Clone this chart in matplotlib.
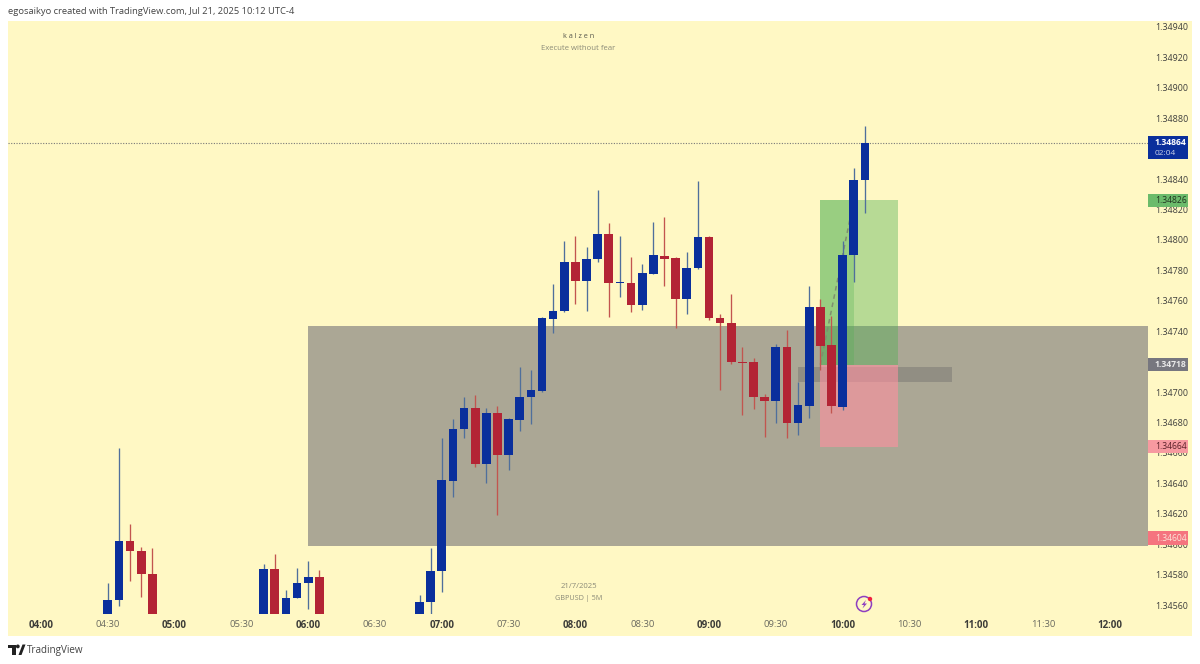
import matplotlib
matplotlib.use('Agg')
import matplotlib.pyplot as plt
from matplotlib.patches import Rectangle, Polygon, Circle
from matplotlib.transforms import IdentityTransform
import numpy as np

plt.rcParams['font.family'] = ['Open Sans', 'DejaVu Sans']

barTimes = ['04:30','04:35','04:40','04:45','04:50',
            '05:40','05:45','05:50','05:55','06:00','06:05',
            '06:50','06:55','07:00','07:05','07:10','07:15','07:20','07:25','07:30','07:35','07:40','07:45','07:50','07:55',
            '08:00','08:05','08:10','08:15','08:20','08:25','08:30','08:35','08:40','08:45','08:50','08:55',
            '09:00','09:05','09:10','09:15','09:20','09:25','09:30','09:35','09:40','09:45','09:50','09:55',
            '10:00','10:05','10:10']
opens = [1.345502,1.345633,1.346023,1.345955,1.345804,
         1.345502,1.345835,1.345502,1.345646,1.345745,1.345784,
         1.345502,1.345620,1.345824,1.346418,1.346755,1.346897,1.346527,1.346861,1.346588,1.346818,1.346968,1.347009,1.347482,1.347531,
         1.347855,1.347728,1.347873,1.348041,1.347717,1.347719,1.347570,1.347778,1.347895,1.347881,1.347614,1.347818,
         1.348018,1.347489,1.347456,1.347200,1.347196,1.346970,1.346939,1.347294,1.346795,1.346910,1.347559,1.347308,
         1.346904,1.347899,1.348394]
highs = [1.345747,1.346630,1.346133,1.345984,1.345975,
         1.345872,1.345935,1.345699,1.345843,1.345888,1.345830,
         1.345664,1.345975,1.346700,1.346826,1.346970,1.346981,1.346897,1.346906,1.346830,1.347167,1.347143,1.347494,1.347709,1.347991,
         1.348028,1.347954,1.348330,1.348112,1.348024,1.347886,1.347844,1.348118,1.348153,1.347886,1.347923,1.348386,
         1.348024,1.347511,1.347642,1.347294,1.347222,1.346985,1.347316,1.347408,1.347064,1.347697,1.347610,1.347500,
         1.347995,1.348471,1.348749]
lows = [1.345502,1.345594,1.345758,1.345655,1.345480,
        1.345480,1.345480,1.345480,1.345646,1.345572,1.345480,
        1.345480,1.345502,1.345688,1.346312,1.346700,1.346506,1.346400,1.346192,1.346488,1.346742,1.346790,1.347002,1.347388,1.347526,
        1.347579,1.347535,1.347853,1.347494,1.347623,1.347526,1.347540,1.347778,1.347699,1.347423,1.347515,1.347812,
        1.347474,1.347014,1.347186,1.346847,1.346891,1.346703,1.346799,1.346700,1.346718,1.346832,1.347145,1.346860,
        1.346882,1.347722,1.348179]
closes = [1.345633,1.346023,1.345953,1.345802,1.345502,
          1.345835,1.345502,1.345648,1.345747,1.345784,1.345502,
          1.345622,1.345826,1.346420,1.346758,1.346897,1.346527,1.346861,1.346588,1.346821,1.346970,1.347014,1.347487,1.347531,1.347855,
          1.347728,1.347875,1.348041,1.347717,1.347722,1.347570,1.347783,1.347901,1.347877,1.347614,1.347818,1.348018,
          1.347489,1.347452,1.347196,1.347194,1.346968,1.346941,1.347294,1.346795,1.346915,1.347559,1.347305,1.346906,
          1.347901,1.348396,1.348640]

timeTicks = ['04:00','04:30','05:00','05:30','06:00','06:30','07:00','07:30','08:00','08:30',
             '09:00','09:30','10:00','10:30','11:00','11:30','12:00']
# 1.34720 and 1.34860 sit fully behind the price boxes, same as the reference
priceTicks = [1.34560,1.34580,1.34600,1.34620,1.34640,1.34660,1.34680,1.34700,1.34740,
              1.34760,1.34780,1.34800,1.34820,1.34840,1.34880,1.34900,1.34920,1.34940]

zoneStart, zoneTop, zoneBottom = '06:00', 1.347434, 1.345988
posStart, posEnd, posNow = '09:50', '10:25', '10:05'
entryPrice, targetPrice, stopPrice = 1.34718, 1.34826, 1.34664
grayStart, grayEnd, grayTop, grayBottom = '09:40', '10:49', 1.347165, 1.347068
lastPrice = 1.34864

yellow = '#fff8c4'
blue = '#0a2f9c'
red = '#b32435'
blueWick = '#4f6f9c'
redWick = '#c2554f'


def toMin(s):
    h, m = s.split(':')
    return int(h) * 60 + int(m)


fig = plt.figure(figsize=(12, 6.64), dpi=100, facecolor='white')
fig.patches.append(Rectangle((8 / 1200, 1 - 636 / 664), 1184 / 1200, 615 / 664, transform=fig.transFigure,
                             facecolor=yellow, edgecolor='none', zorder=-1, figure=fig))
ax = fig.add_axes([8 / 1200, 1 - 614 / 664, 1140 / 1200, 593 / 664])
ax.patch.set_visible(False)
ax.set_xlim(225.18, 737.15)
ax.set_ylim(1.345541, 1.349439)
for s in ax.spines.values():
    s.set_visible(False)

x = np.array([toMin(t) for t in barTimes])
opens = np.array(opens)
closes = np.array(closes)
up = closes >= opens

# zone + position tool
ax.add_patch(Rectangle((toMin(zoneStart), zoneBottom), 800, zoneTop - zoneBottom, facecolor='#aba795', edgecolor='none', zorder=1))
ax.add_patch(Rectangle((toMin(grayStart), grayBottom), toMin(grayEnd) - toMin(grayStart), grayTop - grayBottom,
                       facecolor='#918e83', edgecolor='none', zorder=1.2))
ax.add_patch(Rectangle((toMin(posStart), entryPrice), toMin(posEnd) - toMin(posStart), targetPrice - entryPrice,
                       facecolor='#4caf50', alpha=0.4, edgecolor='none', zorder=2))
ax.add_patch(Rectangle((toMin(posStart), entryPrice), toMin(posNow) - toMin(posStart), targetPrice - entryPrice,
                       facecolor='#4caf50', alpha=0.28, edgecolor='none', zorder=2.1))
ax.add_patch(Rectangle((toMin(posStart), stopPrice), toMin(posEnd) - toMin(posStart), entryPrice - stopPrice,
                       facecolor='#ff91a0', alpha=0.6, edgecolor='none', zorder=2))
ax.plot([toMin(posStart), toMin(posNow)], [entryPrice, targetPrice], color='#7f8f6f', lw=1.1, ls=(0, (3, 2.5)), zorder=2.5)
ax.axhline(lastPrice, color='#777777', lw=0.8, ls=(0, (1, 1.4)), zorder=2.6)

# candles
ax.vlines(x, lows, highs, colors=[blueWick if u else redWick for u in up], lw=0.95, zorder=4)
ax.bar(x, closes - opens, bottom=opens, width=3.9, color=[blue if u else red for u in up], linewidth=0, zorder=5)

# axes
ax.yaxis.tick_right()
ax.set_yticks(priceTicks)
ax.set_yticklabels(['%.5f' % p for p in priceTicks], fontsize=6.4, color='#3f3f3d')
ax.tick_params(axis='y', length=0, pad=5)
ax.set_xticks([toMin(t) for t in timeTicks])
ax.set_xticklabels(timeTicks, fontsize=6.8)
ax.tick_params(axis='x', length=0, pad=4)
for t, lab in zip(timeTicks, ax.get_xticklabels()):
    if t.endswith(':00'):
        lab.set_fontweight('bold')
        lab.set_fontsize(7.0)
        lab.set_color('#3c3c38')
    else:
        lab.set_color('#6a6a60')

# price boxes
boxTrans = ax.get_yaxis_transform()
def priceBox(price, color, txtColor, bold=False, top=4.35e-5, bottom=4.35e-5):
    ax.add_patch(Rectangle((1.0004, price - bottom), 40 / 1140, top + bottom, transform=boxTrans, facecolor=color,
                           edgecolor='none', clip_on=False, zorder=6))
    ax.text(1.0061, price, '%.5f' % price, transform=boxTrans, fontsize=6.2, color=txtColor, va='center', ha='left',
            fontweight='bold' if bold else 'normal', clip_on=False, zorder=7)

priceBox(lastPrice, blue, 'white', bold=True, top=4.5e-5, bottom=10.9e-5)
ax.text(1.0061, lastPrice - 7.0e-5, '02:04', transform=boxTrans, fontsize=6.0, color='#c8d0e8', va='center', ha='left', clip_on=False, zorder=7)
priceBox(targetPrice, '#6bbb6b', '#20331f')
priceBox(entryPrice, '#77777f', '#e8e8e8', bold=True)
priceBox(stopPrice, '#f79aa0', '#5a2028')
priceBox(1.34604, '#f5747f', '#fbe4d8')

# texts
def px(xp, yp):
    return xp / 1200, 1 - yp / 664

fig.text(*px(8, 11), 'egosaikyo created with TradingView.com, Jul 21, 2025 10:12 UTC-4', fontsize=6.75, color='#444444', va='center', ha='left')
fig.text(*px(578.5, 36), 'k a l z e n', fontsize=5.2, color='#55554a', va='center', ha='center')
fig.text(*px(578.5, 49), 'Execute without fear', fontsize=5.6, color='#8a8a78', va='center', ha='center')
fig.text(*px(578.5, 586), '21/7/2025', fontsize=5.6, color='#8a8a78', va='center', ha='center')
fig.text(*px(578.5, 599), 'GBPUSD | 5M', fontsize=5.2, color='#8a8a78', va='center', ha='center')
fig.text(*px(27, 650), 'TradingView', fontsize=7.1, color='#444444', va='center', ha='left')

# replay icon
id_t = IdentityTransform()
def dev(xp, yp):
    return xp, 664 - yp

fig.patches.append(Circle(dev(864, 604), 7.5, transform=id_t, facecolor='none', edgecolor='#8e3fc0', lw=1.1, zorder=5, figure=fig))
fig.patches.append(Circle(dev(870, 599), 2.2, transform=id_t, facecolor='#f02040', edgecolor='none', zorder=6, figure=fig))
bolt = [(866, 600), (861.5, 605), (864, 605), (862.5, 608.5), (867, 603.5), (864.5, 603.5)]
fig.patches.append(Polygon([dev(*p) for p in bolt], closed=True, transform=id_t, facecolor='#8e3fc0', edgecolor='none', zorder=6, figure=fig))

# TradingView logo
logoT = [(8, 644.5), (15.5, 644.5), (15.5, 655), (11.5, 655), (11.5, 648), (8, 648)]
logoV = [(18.5, 655), (22.5, 644.5), (25.5, 644.5), (21.5, 655)]
fig.patches.append(Polygon([dev(*p) for p in logoT], closed=True, transform=id_t, facecolor='#222222', edgecolor='none', figure=fig))
fig.patches.append(Polygon([dev(*p) for p in logoV], closed=True, transform=id_t, facecolor='#222222', edgecolor='none', figure=fig))
fig.patches.append(Circle(dev(17.8, 646.4), 1.9, transform=id_t, facecolor='#222222', edgecolor='none', figure=fig))

fig.savefig('out.png', dpi=100)
